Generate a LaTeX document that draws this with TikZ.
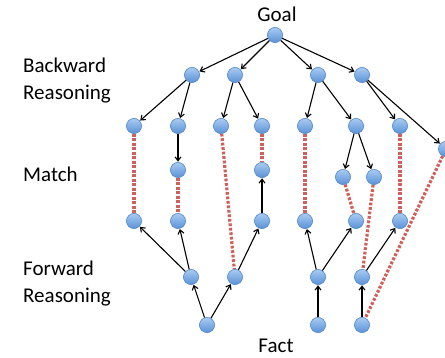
\documentclass[tikz,border=0pt]{standalone}
\usepackage{fontspec}
\setmainfont{Carlito}
\usetikzlibrary{arrows.meta}
\definecolor{nodetop}{HTML}{A9CBF2}
\definecolor{nodebot}{HTML}{5A92D6}
\definecolor{nodeedge}{HTML}{5B8CC9}
\definecolor{matchred}{HTML}{D0605C}
\begin{document}
\begin{tikzpicture}[x=1pt,y=-1pt,
  fact/.style={circle,minimum size=15pt,inner sep=0pt,top color=nodetop,bottom color=nodebot,draw=nodeedge,line width=0.5pt},
  infer/.style={-{Straight Barb[length=4pt,width=6pt]},line width=1.1pt,black,shorten >=0.5pt},
  matchline/.style={matchred,line width=3.2pt,dash pattern=on 2.8pt off 1.7pt},
  txt/.style={font=\fontsize{21}{24}\selectfont,inner sep=0pt},
  lbl/.style={txt,anchor=base west}]
\useasboundingbox (0,0) rectangle (445,358);

% labels
\node[txt,anchor=base] (goal) at (277,21.5) {Goal};
\node[txt,anchor=base] (fact) at (276,353) {Fact};
\node[lbl] (lb1) at (23,72.5) {Backward};
\node[lbl] (lb2) at (23,99.5) {Reasoning};
\node[lbl] (lm) at (23,182) {Match};
\node[lbl] (lf1) at (23,276) {Forward};
\node[lbl] (lf2) at (23,303) {Reasoning};

% goal
\node[fact] (g) at (275,35) {};
% backward level 1
\node[fact] (a) at (192,75) {};
\node[fact] (b) at (235,75) {};
\node[fact] (c) at (318,75) {};
\node[fact] (d) at (362,75) {};
% backward level 2
\node[fact] (a1) at (134,126) {};
\node[fact] (a2) at (178,126) {};
\node[fact] (b1) at (221,126) {};
\node[fact] (b2) at (262,126) {};
\node[fact] (c1) at (305,126) {};
\node[fact] (c2) at (356,126) {};
\node[fact] (d1) at (400,126) {};
\node[fact] (d2) at (446,149) {};
% backward level 3
\node[fact] (a21) at (178,170) {};
\node[fact] (c21) at (343,177) {};
\node[fact] (c22) at (374,177) {};
% forward side
\node[fact] (p1) at (262,170) {};
\node[fact] (f1) at (134,221) {};
\node[fact] (f2) at (178,221) {};
\node[fact] (f3) at (262,221) {};
\node[fact] (f4) at (305,221) {};
\node[fact] (f5) at (356,221) {};
\node[fact] (f6) at (400,221) {};
\node[fact] (e1) at (191,277) {};
\node[fact] (e2) at (235,277) {};
\node[fact] (e3) at (318,277) {};
\node[fact] (e4) at (362,277) {};
\node[fact] (s1) at (207,325) {};
\node[fact] (s2) at (318,325) {};
\node[fact] (s3) at (362,325) {};

% backward reasoning
\draw[infer] (g) -- (a);
\draw[infer] (g) -- (b);
\draw[infer] (g) -- (c);
\draw[infer] (g) -- (d);
\draw[infer] (a) -- (a1);
\draw[infer] (a) -- (a2);
\draw[infer] (b) -- (b1);
\draw[infer] (b) -- (b2);
\draw[infer] (c) -- (c1);
\draw[infer] (c) -- (c2);
\draw[infer] (d) -- (d1);
\draw[infer] (d) -- (d2);
\draw[infer] (a2) -- (a21);
\draw[infer] (c2) -- (c21);
\draw[infer] (c2) -- (c22);

% forward reasoning
\draw[infer] (s1) -- (e1);
\draw[infer] (s1) -- (e2);
\draw[infer] (e1) -- (f1);
\draw[infer] (e1) -- (f2);
\draw[infer] (e2) -- (f3);
\draw[infer] (f3) -- (p1);
\draw[infer] (s2) -- (e3);
\draw[infer] (e3) -- (f4);
\draw[infer] (e3) -- (f5);
\draw[infer] (s3) -- (e4);
\draw[infer] (e4) -- (f6);

% matches
\draw[matchline] (a1) -- (f1);
\draw[matchline] (a21) -- (f2);
\draw[matchline] (b1) -- (e2);
\draw[matchline] (b2) -- (p1);
\draw[matchline] (c1) -- (f4);
\draw[matchline] (c21) -- (f5);
\draw[matchline] (c22) -- (e4);
\draw[matchline] (d1) -- (f6);
\draw[matchline] (d2) -- (s3);

% redraw nodes on top of the connectors
\foreach \n in {g,a,b,c,d,a1,a2,b1,b2,c1,c2,d1,d2,a21,c21,c22,p1,f1,f2,f3,f4,f5,f6,e1,e2,e3,e4,s1,s2,s3}
  \node[fact] at (\n) {};
\end{tikzpicture}
\end{document}
